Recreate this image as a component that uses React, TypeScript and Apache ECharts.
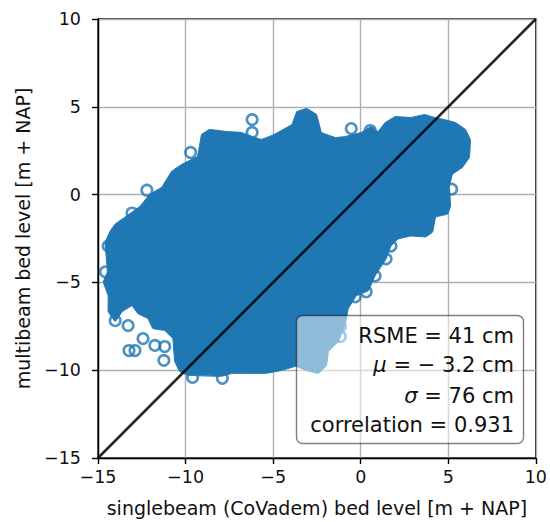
import React, { useEffect, useRef } from "react";
import * as echarts from "echarts";

// Outline of the dense cloud of points (singlebeam vs multibeam), traced clockwise
const blobX = [
  -14.7, -14.47, -14.59, -14.3, -14.02, -13.45, -12.6, -12.04, -11.36, -10.79, -10.22, -9.32,
  -9.09, -8.64, -7.62, -6.82, -5.69, -4.95, -3.93, -3.65, -3.08, -2.52, -2.24, -1.44,
  -0.88, 0.03, 0.6, 0.99, 1.39, 1.96, 2.86, 3.66, 4.22, 4.79, 5.41, 5.98,
  6.26, 6.21, 5.81, 5.24, 5.07, 5.13, 4.96, 4.28, 4.11, 3.71, 2.86, 2.13,
  1.73, 1.45, 0.82, 0.43, -0.25, -0.71, -0.88, -1.27, -1.84, -1.95, -2.41, -3.14,
  -3.71, -4.5, -5.41, -7.33, -7.96, -9.88, -10.34, -10.62, -10.73, -11.19, -11.87, -12.15,
  -12.72, -13.06, -13.62, -14.02, -14.42, -14.42,
];
const blobY = [
  -4.97, -4.4, -2.7, -2.07, -1.68, -1.28, -0.66, 0.02, 0.42, 1.33, 1.72, 2.18,
  3.42, 3.71, 3.59, 3.54, 3.14, 3.42, 3.99, 4.73, 4.9, 4.56, 3.54, 3.25,
  3.31, 3.54, 3.88, 3.59, 4.1, 4.44, 4.39, 4.56, 4.39, 4.27, 4.1, 3.71,
  3.14, 2.12, 1.55, 1.16, 0.48, -0.66, -1.11, -1.28, -2.13, -2.41, -2.36, -2.53,
  -2.93, -3.66, -4.63, -5.48, -5.76, -6.5, -7.35, -8.37, -8.93, -9.73, -10.18, -10.01,
  -9.78, -10.01, -10.18, -10.18, -10.35, -10.29, -10.07, -9.5, -8.2, -7.74, -7.63, -7.06,
  -6.78, -6.33, -6.67, -7.23, -6.67, -5.76,
];

// Isolated points drawn as open circles around the cloud
const ringX = [
  -6.2, -6.2, -9.71, -12.21, -13.06, -13.96, -0.54, 0.54, 5.19, 1.73, 1.45, 0.82,
  0.31, -0.31, -1.16, -1.16, -14.02, -13.28, -12.43, -13.23, -12.89, -11.75, -11.19, -11.24,
  -9.6, -7.9, -14.42, -14.58,
];
const ringY = [
  4.27, 3.54, 2.4, 0.25, -1.05, -2.3, 3.76, 3.65, 0.31, -2.93, -3.66, -4.63,
  -5.53, -5.82, -7.52, -8.08, -7.18, -7.46, -8.2, -8.88, -8.88, -8.59, -8.65, -9.44,
  -10.41, -10.46, -2.93, -4.4,
];

// 1:1 reference line
const identityX = [-15, 10];
const identityY = [-15, 10];

// Axis range and tick spacing
const axisMin = -15;
const axisMax = 10;
const tickStep = 5;

// Summary statistics
const rsmeCm = 41;
const meanCm = -3.2;
const sigmaCm = 76;
const correlation = 0.931;

const BLUE = "#1f77b4";
const FONT = "DejaVu Sans";

const minus = (v: number) => (v < 0 ? "\u2212" + Math.abs(v) : String(v));

export default function App() {
  const ref = useRef<HTMLDivElement>(null);

  useEffect(() => {
    if (!ref.current) return;
    const chart = echarts.init(ref.current, null, { renderer: "svg" });

    const axisCommon = {
      type: "value" as const,
      min: axisMin,
      max: axisMax,
      interval: tickStep,
      nameLocation: "middle" as const,
      nameTextStyle: { fontFamily: FONT, fontSize: 19, color: "#111" },
      axisLine: { show: true, onZero: false, lineStyle: { color: "#000", width: 1.4 } },
      axisTick: { show: true, inside: false, length: 6, lineStyle: { color: "#000", width: 1.4 } },
      axisLabel: {
        fontFamily: FONT,
        fontSize: 17.5,
        color: "#111",
        formatter: (v: number) => minus(v),
      },
      splitLine: { show: true, lineStyle: { color: "#b0b0b0", width: 1.4 } },
    };

    const blobData = blobX.map((x, i) => [x, blobY[i]]);
    const ringData = ringX.map((x, i) => [x, ringY[i]]);
    const lineData = identityX.map((x, i) => [x, identityY[i]]);

    const statTexts = [
      { text: `RSME = ${rsmeCm} cm`, y: 336 },
      { text: `{i|\u03bc} = \u2212 ${Math.abs(meanCm)} cm`, y: 365 },
      { text: `{i|\u03c3} = ${sigmaCm} cm`, y: 396 },
      { text: `correlation = ${correlation}`, y: 425 },
    ];

    chart.setOption({
      animation: false,
      grid: {
        left: 98,
        top: 19,
        width: 441,
        height: 441,
        show: true,
        borderColor: "#000",
        borderWidth: 1.4,
        backgroundColor: "transparent",
      },
      xAxis: {
        ...axisCommon,
        name: "singlebeam (CoVadem) bed level [m + NAP]",
        nameGap: 40,
        axisLabel: { ...axisCommon.axisLabel, margin: 10 },
      },
      yAxis: {
        ...axisCommon,
        name: "multibeam bed level [m + NAP]",
        nameGap: 66,
        axisLabel: { ...axisCommon.axisLabel, margin: 17 },
      },
      series: [
        {
          type: "custom",
          clip: true,
          z: 2,
          data: blobData,
          renderItem: (params: any, api: any) => {
            if (params.dataIndex !== 0) return null;
            const points = blobData.map((p) => api.coord(p));
            return {
              type: "polygon",
              shape: { points, smooth: 0.05 },
              style: { fill: BLUE, stroke: BLUE, lineWidth: 1, lineJoin: "round" },
            };
          },
        },
        {
          type: "scatter",
          z: 3,
          data: ringData,
          symbol: "circle",
          symbolSize: 10.5,
          itemStyle: { color: "rgba(0,0,0,0)", borderColor: BLUE, borderWidth: 2.6 },
        },
        {
          type: "line",
          z: 4,
          data: lineData,
          symbol: "none",
          lineStyle: { color: "rgba(0,0,0,0.85)", width: 2.6 },
        },
      ],
      graphic: [
        {
          type: "rect",
          z: 100,
          shape: { x: 296.5, y: 315.5, width: 227, height: 128, r: 6 },
          style: { fill: "rgba(255,255,255,0.5)", stroke: "rgba(0,0,0,0.5)", lineWidth: 1.4 },
        },
        ...statTexts.map((t) => ({
          type: "text",
          z: 101,
          x: 514,
          y: t.y,
          style: {
            text: t.text,
            align: "right",
            verticalAlign: "middle",
            fontFamily: FONT,
            fontSize: 21,
            fill: "#111",
            rich: {
              i: { fontFamily: FONT, fontStyle: "italic", fontSize: 21, fill: "#111" },
            },
          },
        })),
      ],
    });

    return () => chart.dispose();
  }, []);

  return (
    <div
      ref={ref}
      style={{ position: "fixed", left: 0, top: 0, width: 550, height: 522, background: "#fff" }}
    />
  );
}
